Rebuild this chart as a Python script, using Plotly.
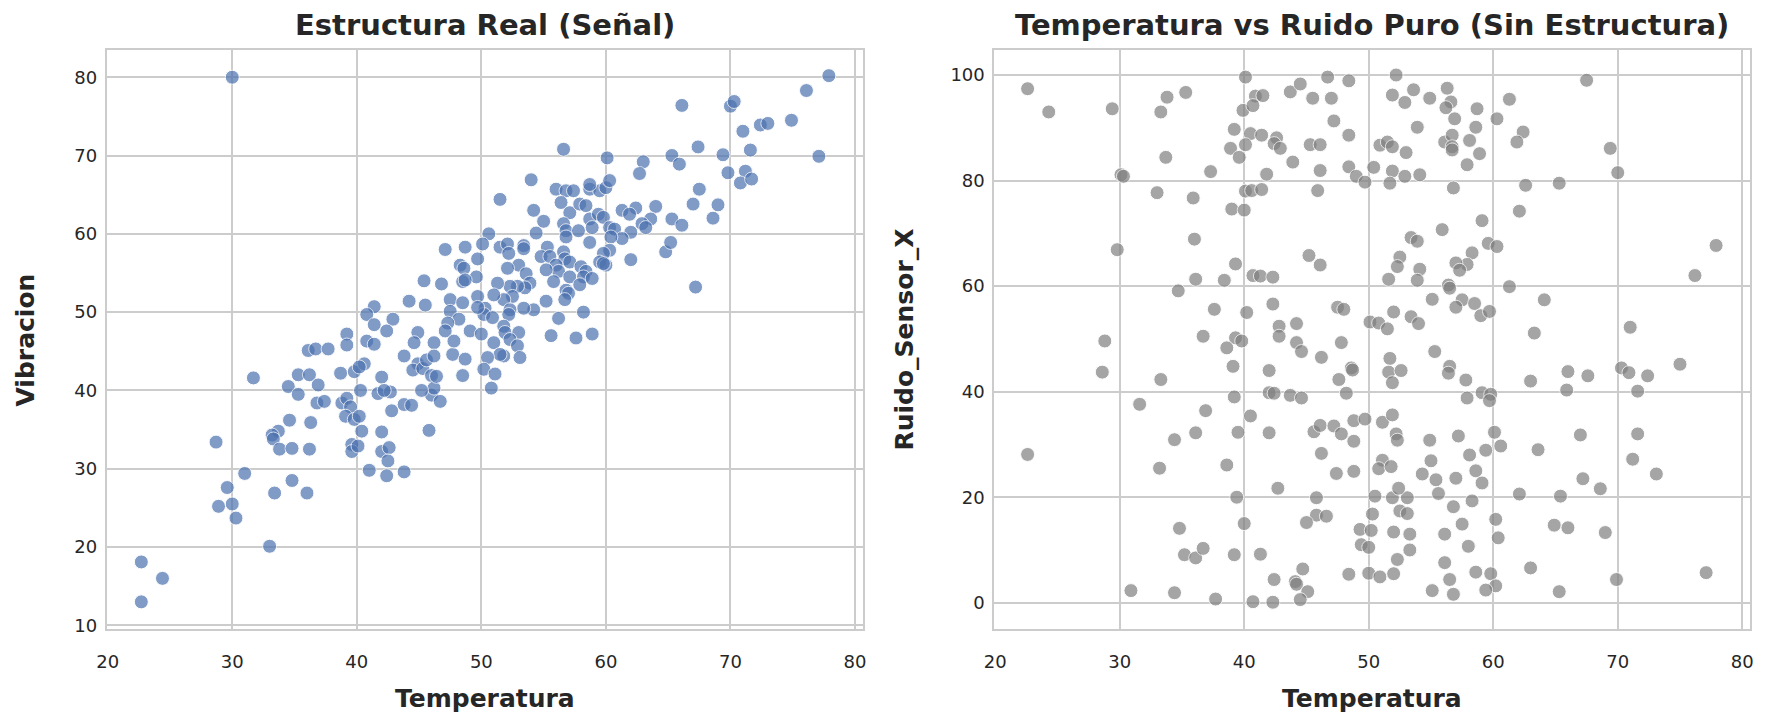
import plotly.graph_objects as go

# ---------------- Data: left panel (Estructura Real) ----------------
temp_senal = [
    22.7, 24.4, 22.7, 28.7, 29.6, 28.9, 30.0, 30.3, 31.0, 33.0,
    33.4, 34.8, 36.0, 31.7, 33.7, 33.2, 33.3, 33.8, 34.8, 36.2,
    34.6, 36.3, 34.5, 35.3, 36.2, 36.9, 35.3, 36.8, 37.4, 36.1,
    36.7, 37.7, 30.0,
    38.7, 39.8, 40.6, 40.2, 38.8, 39.2, 39.5, 39.1, 39.8, 40.2,
    40.3, 40.4, 39.6, 39.6, 40.1, 41.0, 42.4, 43.8, 42.0, 42.0,
    42.6, 42.5, 42.0, 41.7, 42.7, 42.2, 42.8, 43.8, 44.4, 44.9,
    44.5, 45.3, 46.0, 46.0, 46.2, 46.7, 45.8, 45.6, 46.4, 45.2,
    44.2, 45.5, 44.9, 44.6, 46.2, 42.9, 41.4, 40.8, 41.4, 42.4,
    40.8, 41.4, 39.2, 39.2, 45.4, 46.8, 46.2, 43.8,
    51.5, 54.2, 55.0, 54.4, 56.0, 56.8, 57.4, 58.7, 59.5, 60.0,
    56.4, 57.1, 57.9, 58.4, 58.7, 59.4, 59.8, 61.3, 62.4, 64.0,
    61.9, 63.6, 62.9, 63.2, 65.3, 56.6, 56.8, 56.8, 57.8, 58.9,
    60.3, 60.7, 62.0, 61.3, 60.4, 58.7, 60.3, 59.8, 62.0, 64.8,
    65.2, 55.3, 54.8, 55.5, 56.6, 56.7, 57.1, 56.0, 56.2, 55.2,
    55.8, 57.1, 58.0, 58.4, 58.2, 58.9, 59.5, 60.0, 59.8, 57.9,
    56.8, 57.0, 56.7, 55.2, 54.2, 56.2, 58.2, 55.6, 57.6, 58.9,
    50.6, 50.1, 51.5, 52.1, 52.2, 53.4, 53.4, 53.0, 52.1, 53.6,
    53.9, 53.5, 52.9, 52.3, 51.3, 52.5, 51.8, 51.0, 53.4, 52.3,
    52.2, 49.7, 49.6, 48.7, 47.1, 48.3, 48.6, 48.5, 48.7, 47.5,
    48.5, 49.7, 50.3, 50.2, 50.9, 47.5, 48.2, 47.3, 47.1, 49.1,
    50.0, 51.8, 51.9, 53.0, 51.0, 52.3, 52.9, 51.8, 51.5, 53.1,
    50.5, 50.2, 51.1, 50.8, 48.5, 47.7, 48.7, 47.8, 49.7,
    77.9, 76.1, 66.1, 70.0, 70.3, 72.4, 73.0, 74.9, 71.0, 67.4,
    71.6, 77.1, 65.3, 65.9, 69.4, 63.0, 62.7, 60.1, 56.6, 69.8,
    71.2, 70.8, 71.7, 67.5, 67.0, 69.0, 68.6, 66.1, 67.2, 54.0,
    58.7, 60.3,
]
vibracion = [
    18.1, 16.0, 13.0, 33.4, 27.6, 25.2, 25.5, 23.7, 29.4, 20.1,
    26.9, 28.5, 26.9, 41.6, 34.8, 34.3, 33.8, 32.5, 32.6, 32.5,
    36.2, 35.9, 40.5, 42.0, 42.0, 40.7, 39.5, 38.4, 38.6, 45.1,
    45.3, 45.3, 80.0,
    42.2, 42.4, 43.4, 43.0, 38.4, 39.0, 37.9, 36.7, 36.3, 36.7,
    40.0, 34.8, 33.1, 32.2, 32.9, 29.8, 29.1, 29.6, 34.7, 32.2,
    32.7, 31.0, 41.7, 39.6, 39.8, 40.0, 37.4, 38.2, 38.1, 43.4,
    42.6, 42.8, 41.9, 39.4, 40.3, 38.6, 34.9, 43.9, 41.8, 40.0,
    51.4, 50.9, 47.4, 46.1, 46.1, 49.1, 50.7, 49.7, 48.4, 47.6,
    46.3, 45.9, 47.2, 45.8, 54.0, 53.6, 44.4, 44.4,
    64.4, 63.0, 61.6, 60.1, 65.7, 65.5, 65.5, 65.7, 65.5, 65.9,
    64.0, 62.7, 63.8, 63.6, 61.9, 62.5, 62.1, 63.0, 63.3, 63.5,
    62.5, 61.9, 61.3, 60.8, 61.9, 61.3, 60.4, 59.6, 60.4, 60.8,
    60.8, 60.6, 60.2, 59.4, 59.6, 58.9, 57.9, 57.5, 56.7, 57.7,
    58.9, 58.3, 57.1, 57.1, 57.7, 56.8, 56.4, 56.0, 55.2, 55.4,
    53.9, 54.5, 55.8, 55.2, 54.5, 54.3, 56.4, 56.0, 56.2, 53.5,
    52.8, 52.4, 51.6, 51.4, 50.3, 49.2, 50.0, 47.0, 46.7, 47.2,
    60.0, 58.7, 58.3, 58.7, 57.5, 58.5, 58.1, 56.0, 55.6, 54.9,
    53.7, 53.1, 53.3, 53.3, 53.7, 52.0, 51.6, 52.2, 50.5, 50.3,
    49.7, 56.8, 54.5, 58.3, 58.0, 56.0, 55.6, 53.9, 54.1, 51.6,
    51.2, 52.0, 50.5, 49.7, 49.3, 50.1, 49.1, 48.6, 47.6, 47.6,
    47.2, 48.2, 47.4, 47.4, 46.1, 46.5, 45.7, 44.4, 44.6, 44.2,
    44.2, 42.7, 42.1, 40.3, 41.9, 44.6, 44.0, 46.3, 50.6,
    80.2, 78.3, 76.4, 76.3, 76.9, 73.9, 74.1, 74.5, 73.1, 71.1,
    70.7, 69.9, 70.0, 68.9, 70.1, 69.2, 67.7, 69.7, 70.8, 67.8,
    68.0, 66.5, 67.0, 65.7, 63.8, 63.7, 62.0, 61.1, 53.2, 66.9,
    66.3, 66.8,
]

# ---------------- Data: right panel (Ruido puro) ----------------
temp_ruido = [
    22.6, 24.3, 29.4, 33.3, 33.8, 35.3, 30.1, 30.3, 33.7, 33.0,
    35.9, 37.3, 29.8, 36.0, 39.3, 40.7, 41.3, 42.3, 36.1, 38.4,
    34.7, 37.6, 40.2, 42.3, 42.8, 42.8, 44.2, 36.7, 39.3, 39.8,
    28.8, 38.6, 44.2, 47.8, 47.5, 48.0, 45.2, 46.1, 40.1, 46.7,
    48.4, 40.9, 41.5, 43.7, 44.5, 45.5, 47.0, 39.9, 40.7, 47.2,
    39.2, 40.5, 41.4, 38.9, 40.1, 39.6, 42.6, 42.4, 42.9, 45.3,
    46.1, 48.4, 43.9, 46.1, 41.8, 48.4, 49.0, 40.1, 40.6, 41.4,
    45.9, 39.0, 40.0,
    52.2, 51.9, 52.9, 53.6, 54.9, 56.3, 56.6, 56.2, 56.9, 58.7,
    58.6, 61.3, 60.3, 67.5, 53.9, 62.4, 61.9, 50.9, 51.5, 51.9,
    53.0, 56.1, 56.7, 56.7, 56.7, 58.1, 58.9, 57.9, 49.7, 50.4,
    51.9, 51.7, 52.9, 54.1, 56.8, 62.6, 65.3, 69.4, 70.0, 62.1,
    59.1, 55.9, 53.4, 53.9, 59.6, 60.3, 58.3, 57.9, 57.0, 57.3,
    52.5, 52.3, 51.6, 54.1, 53.9, 56.4, 56.5, 61.3, 77.9, 76.2,
    55.1, 57.5, 57.0, 58.5, 59.0, 59.7, 64.1, 52.0, 50.1, 50.8,
    51.5, 53.4, 54.0, 63.3, 71.0,
    28.6, 33.3, 31.6, 36.9, 36.1, 34.4, 22.6, 33.2, 38.6, 39.1,
    39.2, 40.5, 39.5, 42.0, 42.0, 42.4, 43.7, 44.6, 42.0, 44.6,
    46.2, 48.6, 48.7, 47.6, 48.2, 45.6, 46.1, 47.2, 47.8, 48.8,
    48.8, 46.2, 47.4, 48.8, 42.7, 39.4, 45.8, 45.8, 46.6, 45.0,
    40.0, 34.8, 35.2, 36.1, 36.7, 39.2, 41.3, 44.7, 42.4, 44.1,
    44.2, 45.1, 44.5, 48.4, 30.9, 34.4, 37.7, 40.7, 42.3, 49.3,
    49.4,
    55.3, 56.5, 56.4, 57.8, 57.9, 59.1, 59.8, 59.7, 51.7, 51.6,
    52.6, 51.9, 63.0, 66.0, 67.6, 65.9, 70.3, 70.9, 72.4, 71.6,
    75.0, 49.7, 51.1, 51.9, 52.2, 52.3, 54.9, 57.2, 60.1, 60.6,
    59.4, 58.1, 55.0, 54.3, 55.4, 57.0, 58.6, 59.1, 51.1, 50.8,
    51.8, 63.6, 67.0, 67.2, 68.6, 71.6, 71.2, 73.1, 62.1, 65.4,
    50.5, 51.9, 53.1, 52.4, 52.5, 53.1, 50.3, 56.8, 58.3, 55.6,
    50.2, 52.0, 53.3, 50.0, 53.3, 52.3, 56.1, 57.5, 58.0, 60.2,
    60.4, 64.9, 66.0, 69.0, 50.0, 50.9, 52.0, 56.1, 56.5, 55.1,
    56.8, 58.6, 59.8, 60.2, 59.4, 63.0, 65.3, 69.9, 77.1,
]
ruido_sensor_x = [
    97.4, 93.0, 93.6, 93.0, 95.8, 96.7, 81.1, 80.8, 84.4, 77.7,
    76.7, 81.7, 66.9, 68.9, 64.2, 62.0, 61.9, 61.7, 61.3, 61.1,
    59.1, 55.6, 55.0, 56.6, 52.4, 50.5, 52.9, 50.5, 50.2, 49.6,
    49.6, 48.3, 49.3, 49.3, 56.0, 55.6, 65.8, 64.0, 99.6, 99.6,
    98.9, 96.0, 96.1, 96.8, 98.3, 95.6, 95.6, 93.3, 94.2, 91.3,
    89.7, 88.9, 88.6, 86.1, 86.8, 84.4, 88.1, 87.0, 86.1, 86.8,
    86.8, 88.6, 83.5, 81.9, 81.2, 82.6, 80.8, 78.0, 78.1, 78.3,
    78.1, 74.6, 74.4,
    100.0, 96.2, 94.8, 97.2, 95.6, 97.5, 94.9, 93.8, 91.7, 93.6,
    90.1, 95.4, 91.7, 99.0, 90.1, 89.2, 87.3, 86.7, 87.3, 86.4,
    85.3, 87.3, 88.6, 86.4, 85.8, 87.6, 85.1, 83.0, 79.7, 82.5,
    81.8, 79.5, 80.8, 81.1, 78.6, 79.1, 79.5, 86.1, 81.5, 74.2,
    72.4, 70.7, 69.2, 68.5, 68.1, 67.5, 66.3, 64.1, 64.4, 63.0,
    65.5, 63.7, 61.3, 63.2, 61.1, 60.2, 59.6, 59.9, 67.7, 62.0,
    57.5, 57.4, 56.0, 56.7, 54.4, 55.2, 57.4, 55.1, 53.2, 53.0,
    51.9, 54.2, 52.9, 51.1, 52.2,
    43.7, 42.3, 37.6, 36.4, 32.2, 30.9, 28.1, 25.5, 26.1, 44.8,
    39.0, 35.4, 32.3, 44.0, 39.8, 39.7, 39.3, 38.8, 32.2, 47.6,
    46.5, 44.5, 44.1, 42.3, 39.7, 32.4, 33.6, 33.5, 32.0, 34.5,
    30.6, 28.3, 24.5, 24.9, 21.7, 20.0, 19.9, 16.6, 16.4, 15.2,
    15.0, 14.1, 9.1, 8.5, 10.3, 9.1, 9.2, 6.4, 4.4, 4.0,
    3.5, 2.1, 0.6, 5.4, 2.3, 1.9, 0.7, 0.2, 0.1, 13.9,
    11.0,
    47.6, 44.8, 43.5, 42.2, 38.8, 39.8, 39.5, 38.3, 46.3, 43.7,
    44.0, 41.7, 42.0, 43.8, 43.0, 40.3, 44.5, 43.6, 43.0, 40.1,
    45.2, 34.8, 34.2, 35.6, 32.0, 30.8, 30.8, 31.6, 32.3, 29.7,
    28.9, 28.0, 26.9, 24.4, 23.3, 23.6, 25.0, 22.7, 27.0, 25.4,
    25.8, 29.0, 31.8, 23.5, 21.6, 32.0, 27.2, 24.4, 20.6, 20.2,
    20.2, 19.9, 19.9, 21.7, 17.4, 16.9, 16.8, 18.2, 19.3, 20.7,
    13.7, 13.4, 13.0, 10.5, 10.0, 8.2, 13.0, 14.9, 10.7, 15.8,
    12.3, 14.7, 14.2, 13.3, 5.6, 4.9, 5.5, 7.6, 4.4, 2.3,
    1.6, 5.8, 5.5, 3.2, 2.4, 6.6, 2.1, 4.4, 5.7,
]

x_ticks = [20, 30, 40, 50, 60, 70, 80]
y_ticks_left = [10, 20, 30, 40, 50, 60, 70, 80]
y_ticks_right = [0, 20, 40, 60, 80, 100]

W, H = 1774, 726
TXT = "#262626"
GRID = "#cccccc"
FONT = "DejaVu Sans"

fig = go.Figure()
fig.add_trace(go.Scatter(
    x=temp_senal, y=vibracion, mode="markers", xaxis="x", yaxis="y",
    marker=dict(size=14, color="#4C72B0", opacity=0.7,
                line=dict(color="white", width=1)),
    showlegend=False, hoverinfo="skip"))
fig.add_trace(go.Scatter(
    x=temp_ruido, y=ruido_sensor_x, mode="markers", xaxis="x2", yaxis="y2",
    marker=dict(size=14, color="#808080", opacity=0.7,
                line=dict(color="white", width=1)),
    showlegend=False, hoverinfo="skip"))

ydom = [(H - 635) / H, (H - 50.7) / H]
common_axis = dict(showgrid=True, gridcolor=GRID, gridwidth=1.5,
                   showline=True, linecolor=GRID, linewidth=2.2, mirror=True,
                   zeroline=False, ticks="outside",
                   tickcolor="rgba(0,0,0,0)",
                   tickfont=dict(family=FONT, size=18, color=TXT))

fig.update_layout(
    width=W, height=H, margin=dict(l=0, r=0, t=0, b=0),
    paper_bgcolor="white", plot_bgcolor="white",
    xaxis=dict(domain=[96.7 / W, 859 / W], range=[19.94, 80.66],
               tickvals=x_ticks, ticklen=15, anchor="y", **common_axis),
    yaxis=dict(domain=ydom, range=[9.55, 83.45], tickvals=y_ticks_left,
               ticklen=4, anchor="x", **common_axis),
    xaxis2=dict(domain=[991.3 / W, 1753.3 / W], range=[19.94, 80.66],
                tickvals=x_ticks, ticklen=15, anchor="y2", **common_axis),
    yaxis2=dict(domain=ydom, range=[-4.95, 104.7], tickvals=y_ticks_right,
                ticklen=4, anchor="x2", **common_axis),
)

def ann(text, x, y, size, angle=0):
    fig.add_annotation(text=text, x=x, y=y, xref="paper", yref="paper",
                       showarrow=False, textangle=angle,
                       xanchor="center", yanchor="middle",
                       font=dict(family=FONT, size=size, color=TXT,
                                 weight="bold"))

ann("Estructura Real (Señal)", 478 / W, (H - 25) / H, 29)
ann("Temperatura vs Ruido Puro (Sin Estructura)", 1372 / W, (H - 25) / H, 29)
ann("Temperatura", 478 / W, (H - 705) / H, 25)
ann("Temperatura", 1372 / W, (H - 705) / H, 25)
ann("Vibracion", 15 / W, (H - 343) / H, 25, -90)
ann("Ruido_Sensor_X", 901 / W, (H - 343) / H, 25, -90)

fig.write_html("out.html")
